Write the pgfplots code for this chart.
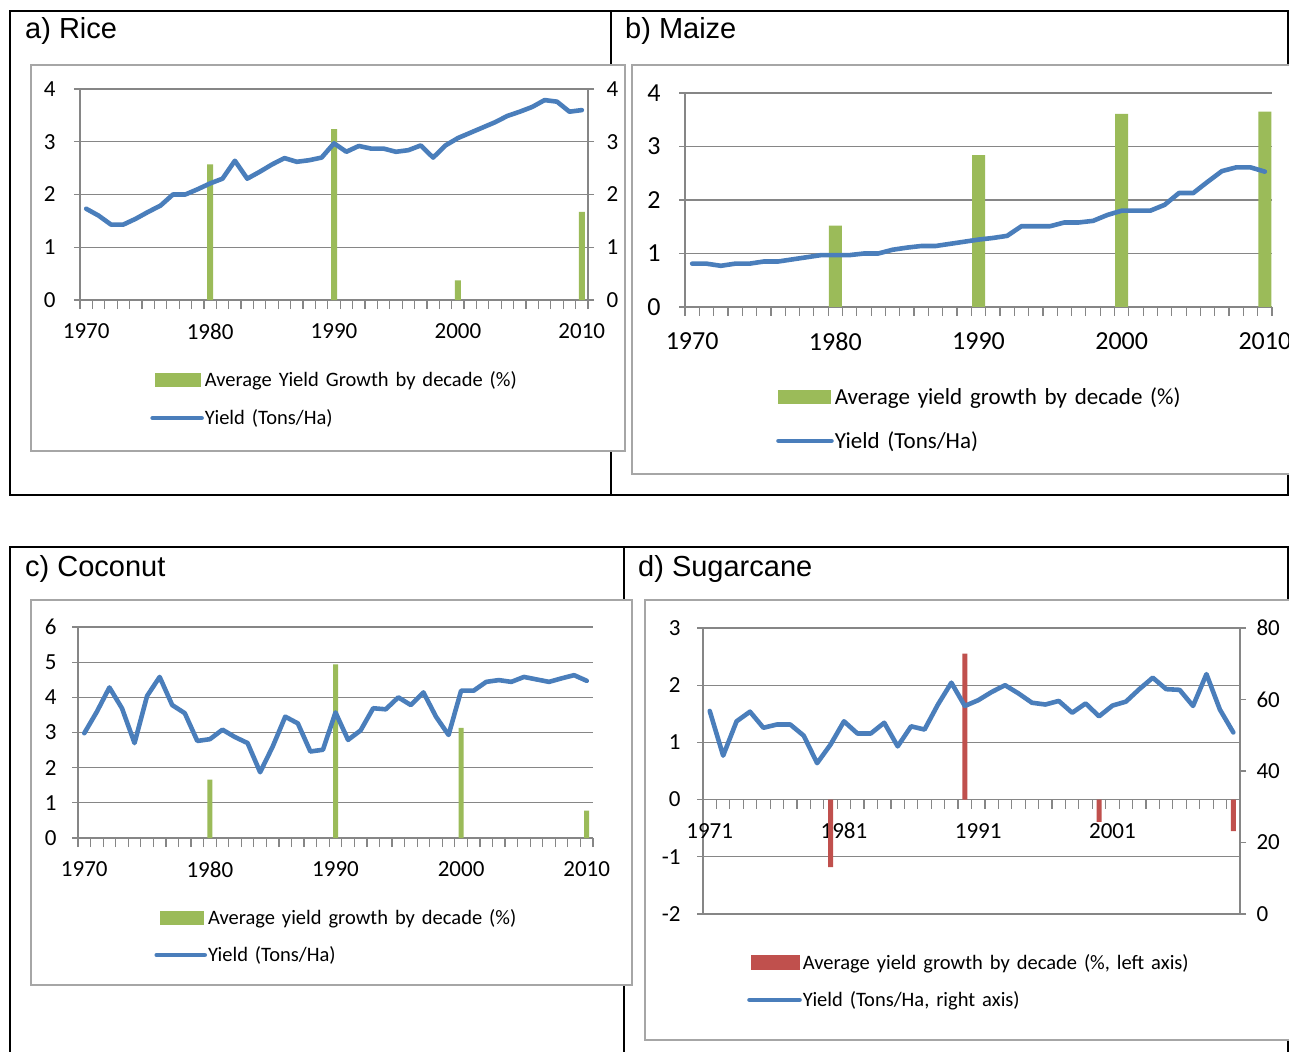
\documentclass[border=0pt]{standalone}
\usepackage{fontspec}
\setmainfont{Carlito}
\newfontfamily\legendfont[WordSpace=1.5]{Carlito}
\newfontfamily\arialfont{Liberation Sans}
\usepackage{pgfplots}
\usepackage{pgfplotstable}
\pgfplotsset{compat=1.18}

\definecolor{lineblue}{HTML}{4A7EBB}
\definecolor{bargreen}{HTML}{9BBB59}
\definecolor{barred}{HTML}{C0504D}
\definecolor{axisgray}{HTML}{868686}
\definecolor{boxgray}{HTML}{A6A6A6}

% yields, tons/ha
\pgfplotstableread{
year rice maize coconut
1970 1.73 0.81 2.98
1971 1.60 0.81 3.59
1972 1.43 0.77 4.28
1973 1.43 0.81 3.69
1974 1.54 0.81 2.70
1975 1.67 0.85 4.04
1976 1.79 0.85 4.58
1977 2.00 0.89 3.78
1978 2.00 0.93 3.55
1979 2.10 0.97 2.76
1980 2.21 0.97 2.81
1981 2.30 0.97 3.08
1982 2.64 1.00 2.87
1983 2.30 1.00 2.70
1984 2.43 1.07 1.87
1985 2.57 1.11 2.60
1986 2.69 1.14 3.45
1987 2.62 1.14 3.26
1988 2.65 1.18 2.46
1989 2.70 1.22 2.51
1990 2.97 1.26 3.57
1991 2.81 1.29 2.79
1992 2.92 1.33 3.06
1993 2.87 1.51 3.69
1994 2.87 1.51 3.66
1995 2.81 1.51 4.00
1996 2.84 1.58 3.78
1997 2.93 1.58 4.14
1998 2.70 1.61 3.45
1999 2.93 1.72 2.93
2000 3.07 1.80 4.19
2001 3.17 1.80 4.19
2002 3.27 1.80 4.44
2003 3.37 1.91 4.49
2004 3.49 2.13 4.44
2005 3.57 2.13 4.58
2006 3.66 2.34 4.51
2007 3.79 2.54 4.44
2008 3.76 2.61 4.54
2009 3.57 2.61 4.63
2010 3.60 2.53 4.47
}\yields

\pgfplotstableread{
year cane
1971 56.8
1972 44.3
1973 53.9
1974 56.6
1975 52.1
1976 53.0
1977 53.0
1978 49.9
1979 42.2
1980 47.4
1981 53.9
1982 50.5
1983 50.5
1984 53.5
1985 46.9
1986 52.5
1987 51.6
1988 58.6
1989 64.7
1990 58.2
1991 59.8
1992 62.1
1993 64.0
1994 61.7
1995 59.1
1996 58.6
1997 59.6
1998 56.3
1999 58.9
2000 55.3
2001 58.3
2002 59.4
2003 62.9
2004 66.1
2005 62.9
2006 62.7
2007 58.2
2008 67.1
2009 57.2
2010 50.8
}\cane

\pgfplotsset{
  excel/.style={
    scale only axis, anchor=north west,
    axis x line*=bottom, axis y line*=left,
    axis line style={axisgray, line width=1.2pt},
    ymajorgrids, major grid style={axisgray, line width=1.2pt},
    tick align=outside, major tick length=6pt, minor tick length=9pt,
    major x tick style={draw=none},
    minor x tick style={axisgray, line width=1.2pt},
    major y tick style={axisgray, line width=1.2pt},
    /pgf/number format/assume math mode=true,
    xmin=1969.5, xmax=2010.5,
    xtick={1970,1980,1990,2000,2010},
    xticklabels={1970,1980,1990,2000,2010},
    minor xtick={1969.5,1970.5,...,2010.5},
    legend cell align=left,
    legend style={draw=none, fill=none, anchor=north west, inner sep=0pt,
      row sep=20pt, nodes={inner sep=1pt}},
  },
  rightaxis/.style={
    scale only axis, anchor=north west,
    axis x line=none, axis y line*=right,
    axis line style={axisgray, line width=1.2pt},
    tick align=outside, major tick length=6pt,
    major y tick style={axisgray, line width=1.2pt},
    /pgf/number format/assume math mode=true,
  },
  yieldline/.style={lineblue, line width=4.6pt, line join=round, line cap=round, mark=none},
}

\begin{document}
\begin{tikzpicture}
\useasboundingbox (0pt,0pt) rectangle (1289pt,-1051pt);

% outer frames
\draw[black, line width=1.6pt] (10pt,-11pt) rectangle (1288pt,-495pt);
\draw[black, line width=1.6pt] (611pt,-11pt) -- (611pt,-495pt);
\draw[black, line width=1.6pt] (10pt,-1070pt) -- (10pt,-547pt) -- (1288pt,-547pt) -- (1288pt,-1070pt);
\draw[black, line width=1.6pt] (624pt,-547pt) -- (624pt,-1070pt);

% chart areas
\filldraw[fill=white, draw=boxgray, line width=1.5pt] (31pt,-65pt) rectangle (625pt,-451pt);
\filldraw[fill=white, draw=boxgray, line width=1.5pt] (632pt,-65pt) rectangle (1300pt,-474pt);
\filldraw[fill=white, draw=boxgray, line width=1.5pt] (31pt,-600pt) rectangle (632pt,-985pt);
\filldraw[fill=white, draw=boxgray, line width=1.5pt] (645pt,-600pt) rectangle (1300pt,-1040pt);

% titles
\node[anchor=base west, inner sep=0pt] at (25pt,-39pt) {\arialfont\fontsize{29}{29}\selectfont a) Rice};
\node[anchor=base west, inner sep=0pt] at (625pt,-39pt) {\arialfont\fontsize{29}{29}\selectfont b) Maize};
\node[anchor=base west, inner sep=0pt] at (25pt,-576pt) {\arialfont\fontsize{29}{29}\selectfont c) Coconut};
\node[anchor=base west, inner sep=0pt] at (638pt,-576pt) {\arialfont\fontsize{29}{29}\selectfont d) Sugarcane};

% a) Rice
\begin{axis}[excel, at={(80pt,-89pt)}, width=508pt, height=211pt,
  ymin=0, ymax=4, ytick={0,...,4},
  ticklabel style={font=\fontsize{23}{23}\selectfont},
  xticklabel style={yshift=-14pt}, yticklabel style={xshift=-15pt},
  legend style={at={(axis description cs:0.138,-0.332)}, font=\legendfont\fontsize{20.5}{24}\selectfont}]
\addplot[ybar, bar width=6pt, fill=bargreen, draw=none,
  legend image code/.code={\fill[bargreen] (2pt,-7pt) rectangle (48pt,7pt);}]
  coordinates {(1980,2.57) (1990,3.24) (2000,0.37) (2010,1.67)};
\addlegendentry{Average Yield Growth by decade (\%)}
\addplot[yieldline, legend image code/.code={\draw[lineblue, line width=4.6pt, line cap=round] (0pt,0pt) -- (49pt,0pt);}]
  table[x=year, y=rice] {\yields};
\addlegendentry{Yield (Tons/Ha)}
\end{axis}
\begin{axis}[rightaxis, at={(80pt,-89pt)}, width=508pt, height=211pt,
  xmin=1969.5, xmax=2010.5, ymin=0, ymax=4, ytick={0,...,4},
  ticklabel style={font=\fontsize{23}{23}\selectfont}, yticklabel style={xshift=9pt}]
\end{axis}

% b) Maize
\begin{axis}[excel, at={(685pt,-93pt)}, width=587pt, height=214pt,
  ymin=0, ymax=4, ytick={0,...,4},
  ticklabel style={font=\fontsize{26}{26}\selectfont},
  xticklabel style={yshift=-16pt}, yticklabel style={xshift=-15pt},
  legend style={at={(axis description cs:0.155,-0.37)}, font=\legendfont\fontsize{23}{27}\selectfont, row sep=24pt}]
\addplot[ybar, bar width=13pt, fill=bargreen, draw=none,
  legend image code/.code={\fill[bargreen] (0pt,-7pt) rectangle (53pt,7pt);}]
  coordinates {(1980,1.52) (1990,2.84) (2000,3.61) (2010,3.65)};
\addlegendentry{Average yield growth by decade (\%)}
\addplot[yieldline, legend image code/.code={\draw[lineblue, line width=4.6pt, line cap=round] (0pt,0pt) -- (53pt,0pt);}]
  table[x=year, y=maize] {\yields};
\addlegendentry{Yield (Tons/Ha)}
\end{axis}

% c) Coconut
\begin{axis}[excel, at={(78pt,-627pt)}, width=515pt, height=211pt,
  ymin=0, ymax=6, ytick={0,...,6},
  ticklabel style={font=\fontsize{23}{23}\selectfont},
  xticklabel style={yshift=-14pt}, yticklabel style={xshift=-12pt},
  legend style={at={(axis description cs:0.148,-0.332)}, font=\legendfont\fontsize{20.5}{24}\selectfont, row sep=19pt}]
\addplot[ybar, bar width=5pt, fill=bargreen, draw=none,
  legend image code/.code={\fill[bargreen] (3pt,-7pt) rectangle (47pt,7pt);}]
  coordinates {(1980,1.66) (1990,4.94) (2000,3.13) (2010,0.78)};
\addlegendentry{Average yield growth by decade (\%)}
\addplot[yieldline, legend image code/.code={\draw[lineblue, line width=4.6pt, line cap=round] (0pt,0pt) -- (48pt,0pt);}]
  table[x=year, y=coconut] {\yields};
\addlegendentry{Yield (Tons/Ha)}
\end{axis}

% d) Sugarcane
\begin{axis}[excel, at={(703pt,-628pt)}, width=537pt, height=286pt,
  axis x line*=middle, hide obscured x ticks=false, hide obscured y ticks=false,
  xmin=1970.5, xmax=2010.5, xtick={1971,1981,1991,2001}, xticklabels={1971,1981,1991,2001},
  minor xtick={1970.5,1971.5,...,2010.5},
  ymin=-2, ymax=3, ytick={-2,...,3},
  ticklabel style={font=\fontsize{23}{23}\selectfont},
  xticklabel style={yshift=-14pt}, yticklabel style={xshift=-13pt}]
\addplot[ybar, bar width=5pt, fill=barred, draw=none]
  coordinates {(1980,-1.18) (1990,2.55) (2000,-0.39) (2010,-0.55)};
\end{axis}
\begin{axis}[rightaxis, at={(703pt,-628pt)}, width=537pt, height=286pt,
  xmin=1970.5, xmax=2010.5, ymin=0, ymax=80, ytick={0,20,...,80},
  ticklabel style={font=\fontsize{23}{23}\selectfont}, yticklabel style={xshift=7pt},
  legend cell align=left,
  legend style={draw=none, fill=none, anchor=north west, inner sep=0pt,
    row sep=19pt, nodes={inner sep=1pt},
    at={(axis description cs:0.082,-0.136)}, font=\legendfont\fontsize{20.5}{24}\selectfont}]
\addlegendimage{legend image code/.code={\fill[barred] (2pt,-7pt) rectangle (50pt,7pt);}}
\addlegendentry{Average yield growth by decade (\%, left axis)}
\addplot[yieldline, legend image code/.code={\draw[lineblue, line width=4.6pt, line cap=round] (0pt,0pt) -- (50pt,0pt);}]
  table[x=year, y=cane] {\cane};
\addlegendentry{Yield (Tons/Ha, right axis)}
\end{axis}
\end{tikzpicture}
\end{document}
